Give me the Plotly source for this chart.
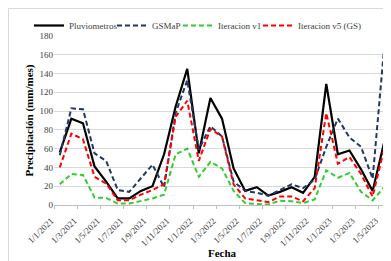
import plotly.graph_objects as go

months = ["1/1/2021","1/2/2021","1/3/2021","1/4/2021","1/5/2021","1/6/2021","1/7/2021","1/8/2021",
          "1/9/2021","1/10/2021","1/11/2021","1/12/2021","1/1/2022","1/2/2022","1/3/2022","1/4/2022",
          "1/5/2022","1/6/2022","1/7/2022","1/8/2022","1/9/2022","1/10/2022","1/11/2022","1/12/2022",
          "1/1/2023","1/2/2023","1/3/2023","1/4/2023","1/5/2023"]
pluviometros = [56, 92, 87, 41, 25, 7, 7, 15, 20, 54, 105, 145, 55, 114, 92, 39, 15, 19, 10, 14, 19, 13, 30, 129, 54, 58, 38, 15, 67]
gsmap = [53, 103, 102, 55, 47, 16, 14, 28, 43, 19, 98, 133, 59, 84, 73, 25, 15, 13, 10, 16, 22, 18, 27, 62, 92, 72, 62, 28, 168]
iter_v1 = [22, 33, 32, 8, 7.5, 1.5, 1.5, 4, 7, 11, 54, 60, 30, 46, 39, 15, 2, 1, 0.5, 4.6, 4, 2, 6, 37, 29, 34, 14, 5, 19]
iter_v5 = [40, 76, 70, 30, 23, 5, 5, 11, 16, 22, 94, 111, 47, 81, 73, 22, 7, 5, 3, 9, 9, 4, 18, 98, 44, 51, 33, 9, 60]

x = list(range(len(months)))
tickvals = [i - 0.5 for i in x if i % 2 == 0]
ticktext = [months[i] for i in x if i % 2 == 0]

font = "Liberation Serif, Times New Roman, serif"
PW, PH, L = 336, 169, 46

fig = go.Figure()
fig.add_trace(go.Scatter(x=x, y=pluviometros, mode="lines", name="Pluviometros", legend="legend",
                         line=dict(color="#000000", width=2.2)))
fig.add_trace(go.Scatter(x=x, y=gsmap, mode="lines", name="GSMaP", legend="legend2",
                         line=dict(color="#1F3864", width=2, dash="5px,3px")))
fig.add_trace(go.Scatter(x=x, y=iter_v1, mode="lines", name="Iteracion v1", legend="legend3",
                         line=dict(color="#33CC33", width=2, dash="5px,3px")))
fig.add_trace(go.Scatter(x=x, y=iter_v5, mode="lines", name="Iteracion v5 (GS)", legend="legend4",
                         line=dict(color="#FF0000", width=2, dash="5px,3px")))


def leg(px):
    return dict(orientation="h", x=(px - L) / PW, xanchor="left", y=1 + 25 / PH, yanchor="top",
                font=dict(family=font, size=9, color="#404040"),
                itemwidth=30, bgcolor="rgba(0,0,0,0)")


fig.update_layout(
    width=391, height=261,
    margin=dict(l=L, r=9, t=28, b=64, autoexpand=False),
    paper_bgcolor="white", plot_bgcolor="white",
    font=dict(family=font, size=9, color="#404040"),
    showlegend=True,
    legend=leg(21), legend2=leg(104), legend3=leg(170), legend4=leg(250),
    xaxis=dict(range=[-0.5, 28.5], tickmode="array", tickvals=tickvals, ticktext=ticktext,
               tickangle=-45, tickfont=dict(family=font, size=9, color="#404040"),
               ticklabelshift=-3, ticklabelstandoff=3,
               showgrid=False, zeroline=False, showline=True, linecolor="#BFBFBF",
               ticks="outside", ticklen=3, tickcolor="#BFBFBF", automargin=False),
    yaxis=dict(range=[0, 180], tickmode="linear", tick0=0, dtick=20,
               tickfont=dict(family=font, size=9, color="#404040"),
               showgrid=True, gridcolor="#D9D9D9", gridwidth=1, zeroline=False, showline=False,
               automargin=False,
               title=dict(text="<b>Precipitación (mm/mes)</b>", font=dict(family=font, size=11, color="#000000"), standoff=3)),
    annotations=[dict(text="<b>Fecha</b>", xref="paper", yref="paper", x=0.5, y=-(245 - 197) / PH,
                      xanchor="center", yanchor="middle", showarrow=False,
                      font=dict(family=font, size=11, color="#000000"))],
    shapes=[dict(type="rect", xref="paper", yref="paper",
                 x0=-45.5 / PW, x1=1 + 8.5 / PW, y0=-63.5 / PH, y1=1 + 27.5 / PH,
                 line=dict(color="#D9D9D9", width=1), fillcolor="rgba(0,0,0,0)", layer="below")],
)
fig.write_html("out.html")
